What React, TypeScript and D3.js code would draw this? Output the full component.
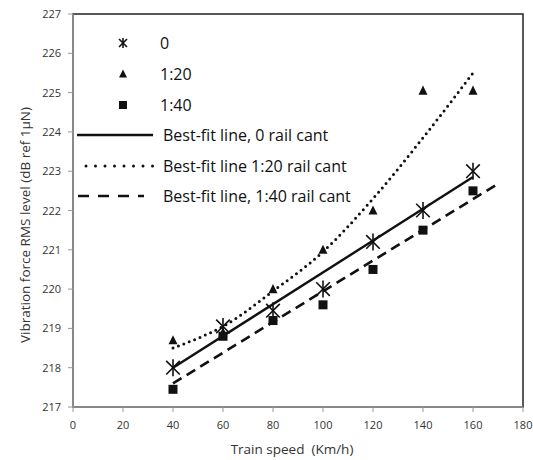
import React from "react";
import * as d3 from "d3";

const speeds = [40, 60, 80, 100, 120, 140, 160];
const cant0 = [218.0, 219.05, 219.45, 220.0, 221.2, 222.0, 223.0];
const cant20 = [218.7, 218.9, 220.0, 221.0, 222.0, 225.05, 225.05];
const cant40 = [217.45, 218.8, 219.2, 219.6, 220.5, 221.5, 222.5];

const fit0X = [40, 160];
const fit0Y = [218.0, 222.85];
const fit20X = [40, 50, 60, 80, 100, 120, 140, 160];
const fit20Y = [218.5, 218.75, 219.05, 219.95, 220.95, 222.3, 223.85, 225.5];
const fit40X = [40, 170];
const fit40Y = [217.6, 222.68];

const xTicks = [0, 20, 40, 60, 80, 100, 120, 140, 160, 180];
const yTicks = [217, 218, 219, 220, 221, 222, 223, 224, 225, 226, 227];

const legendLabels = ["0", "1:20", "1:40", "Best-fit line, 0 rail cant", "Best-fit line 1:20 rail cant", "Best-fit line, 1:40 rail cant"];

const FONT = "'Open Sans', 'Noto Sans', sans-serif";

function Star({ x, y, r }: { x: number; y: number; r: number }) {
  const d = r * 0.8;
  return (
    <g stroke="#111" strokeWidth={1.6}>
      <line x1={x - d} y1={y - d} x2={x + d} y2={y + d} />
      <line x1={x - d} y1={y + d} x2={x + d} y2={y - d} />
      <line x1={x} y1={y - r} x2={x} y2={y + r} />
    </g>
  );
}
function Tri({ x, y, s }: { x: number; y: number; s: number }) {
  const h = s * 0.9;
  return <path d={`M${x},${y - h / 2 - 1}L${x + s / 2},${y + h / 2}L${x - s / 2},${y + h / 2}Z`} fill="#111" />;
}
function Sq({ x, y, s }: { x: number; y: number; s: number }) {
  return <rect x={x - s / 2} y={y - s / 2} width={s} height={s} fill="#111" />;
}

export default function App() {
  const W = 533, H = 460;
  const L = 73, R = 523, T = 14, B = 407;
  const x = d3.scaleLinear().domain([0, 180]).range([L, R]);
  const y = d3.scaleLinear().domain([217, 227]).range([B, T]);

  const lineStraight = d3.line<[number, number]>().x(d => x(d[0])).y(d => y(d[1]));
  const lineCurve = d3.line<[number, number]>().x(d => x(d[0])).y(d => y(d[1])).curve(d3.curveMonotoneX);

  const p0 = lineStraight(fit0X.map((v, i) => [v, fit0Y[i]]))!;
  const p20 = lineCurve(fit20X.map((v, i) => [v, fit20Y[i]]))!;
  const p40 = lineStraight(fit40X.map((v, i) => [v, fit40Y[i]]))!;

  const legRows = [43, 74, 105, 135, 166, 196];

  return (
    <svg width={W} height={H} style={{ position: "absolute", left: 0, top: 0 }} fontFamily={FONT}>
      <rect width={W} height={H} fill="#fff" />
      {/* frame */}
      <rect x={L} y={T} width={R - L} height={B - T} fill="none" stroke="#222" strokeWidth={1.5} />
      {/* axes */}
      <line x1={L} y1={T} x2={L} y2={B} stroke="#999" strokeWidth={1.5} />
      <line x1={L} y1={B} x2={R} y2={B} stroke="#999" strokeWidth={1.5} />
      {xTicks.map(t => (
        <g key={"x" + t}>
          <line x1={x(t)} x2={x(t)} y1={B} y2={B + 5} stroke="#999" strokeWidth={1} />
          <text x={x(t)} y={B + 22} textAnchor="middle" fontSize={11} fill="#333">{t}</text>
        </g>
      ))}
      {yTicks.map(t => (
        <g key={"y" + t}>
          <line x1={L - 5} x2={L} y1={y(t)} y2={y(t)} stroke="#999" strokeWidth={1} />
          <text x={L - 12} y={y(t) + 4} textAnchor="end" fontSize={11} fill="#333">{t}</text>
        </g>
      ))}
      <text x={292} y={454} textAnchor="middle" fontSize={13.5} fill="#333" style={{ whiteSpace: "pre" }}>{"Train speed  (Km/h)"}</text>
      <text transform={`translate(30,225) rotate(-90)`} textAnchor="middle" fontSize={13.5} fill="#333">Vibration force RMS level (dB ref 1μN)</text>

      {/* fit lines */}
      <path d={p0} fill="none" stroke="#111" strokeWidth={2.4} />
      <path d={p20} fill="none" stroke="#111" strokeWidth={3} strokeDasharray="0 5.8" strokeLinecap="round" />
      <path d={p40} fill="none" stroke="#111" strokeWidth={2.6} strokeDasharray="10 6" />

      {/* points */}
      {speeds.map((s, i) => <Tri key={"t" + i} x={x(s)} y={y(cant20[i])} s={9} />)}
      {speeds.map((s, i) => <Sq key={"s" + i} x={x(s)} y={y(cant40[i])} s={9} />)}
      {speeds.map((s, i) => <Star key={"a" + i} x={x(s)} y={y(cant0[i])} r={8.5} />)}

      {/* legend */}
      <Star x={123} y={legRows[0]} r={5} />
      <Tri x={123} y={legRows[1]} s={8} />
      <Sq x={123} y={legRows[2]} s={8} />
      <line x1={77} x2={153} y1={legRows[3]} y2={legRows[3]} stroke="#111" strokeWidth={2.4} />
      <line x1={86} x2={153} y1={legRows[4]} y2={legRows[4]} stroke="#111" strokeWidth={3} strokeDasharray="0 9.5" strokeLinecap="round" />
      <line x1={78} x2={144} y1={legRows[5]} y2={legRows[5]} stroke="#111" strokeWidth={2.6} strokeDasharray="11 9" />
      {legendLabels.map((lab, i) => (
        <text key={lab} x={i < 3 ? 160 : 163} y={legRows[i] + 5.5} fontSize={16} fill="#111">{lab}</text>
      ))}
    </svg>
  );
}
